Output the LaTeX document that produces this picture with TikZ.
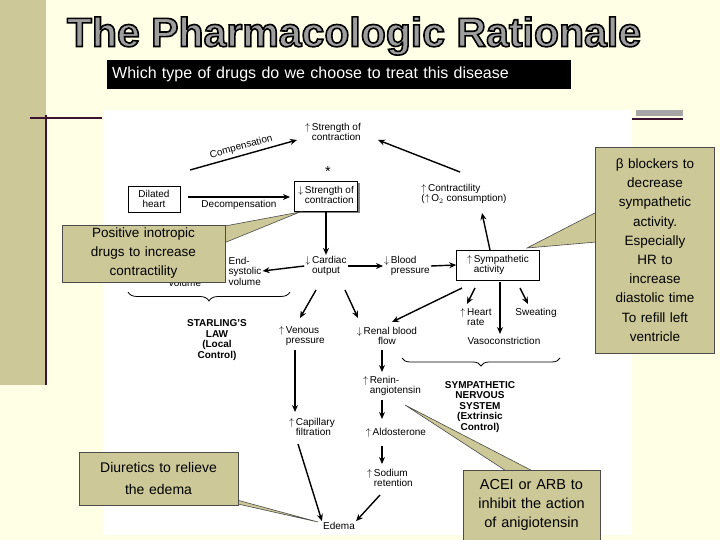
\documentclass[tikz,border=0pt]{standalone}
\usepackage{fontspec}
\setmainfont{Liberation Sans}
\usetikzlibrary{arrows.meta,decorations.pathreplacing,shadows}
\definecolor{bg}{RGB}{255,255,230}
\definecolor{khaki}{RGB}{204,200,152}
\definecolor{plum}{RGB}{60,20,50}
\hyphenpenalty=10000
\begin{document}
\begin{tikzpicture}[x=1pt,y=-1pt,
 t/.style={font=\fontsize{10}{10.5}\selectfont,align=left,inner sep=1pt},
 b/.style={font=\bfseries\fontsize{10}{10.5}\selectfont,align=center,inner sep=1pt},
 ar/.style={-{Stealth[length=7pt,width=6pt]},line width=1.4pt},
 bx/.style={draw,line width=0.6pt,fill=white},
 call/.style={draw=black!70,fill=khaki,line width=0.6pt},
 ct/.style={font=\fontsize{13.5}{16}\selectfont,align=center},
 tt/.style={font=\fontsize{41}{41}\selectfont\bfseries}]
\useasboundingbox (0,0) rectangle (720,540);
\fill[bg] (0,0) rectangle (720,540);
\fill[khaki] (0,0) rectangle (46,385);
\draw[plum,line width=2.5pt] (46,115) -- (46,385);
\draw[plum,line width=2.5pt] (30,118) -- (102,118);
\fill[black!35] (636,110) rectangle (683,116);
\draw[plum,line width=2.5pt] (610,119) -- (683,119);
\fill[white] (103,110) rectangle (632,535);
% title
\node[tt,text=black!38] (title) at (354,36) {\special{pdf:literal direct 2 Tr 1.6 w 0 0 0 RG}The Pharmacologic Rationale\special{pdf:literal direct 0 Tr}};
\node[fill=black,text=white,minimum width=464,minimum height=29,font=\fontsize{16}{17}\selectfont,anchor=north west,text width=454,align=left] (sub) at (107,60) {Which type of drugs do we choose to treat this disease};
% diagram
\node[t] (s1) at (333,133) {$\uparrow$\,Strength of\\\phantom{$\uparrow$\,}contraction};
\node[bx,t,minimum width=52,minimum height=26,align=center] (dh) at (154,199) {Dilated\\heart};
\node[bx,t,minimum width=63,minimum height=30,drop shadow={opacity=1,shadow xshift=2pt,shadow yshift=-2pt}] (s2) at (326,196) {$\downarrow$\,Strength of\\\phantom{$\downarrow$\,}contraction};
\node (star) at (328,172) {\Large *};
\node[t] (con) at (464,194) {$\uparrow$\,Contractility\\($\uparrow$\,O$_2$ consumption)};
\coordinate (c1) at (190,170); \coordinate (c2) at (297,140);
\draw[ar] (c1) -- node[sloped,above=2pt,t] (comp) {Compensation} (c2);
\coordinate (d1) at (188,197); \coordinate (d2) at (290,197);
\draw[ar] (d1) -- node[below=2pt,t] (dec) {Decompensation} (d2);
\coordinate (c3) at (460,172); \coordinate (c4) at (378,140);
\draw[ar] (c3) -- (c4);
\node[t] (co) at (326,266) {$\downarrow$\,Cardiac\\\phantom{$\downarrow$\,}output};
\node[t] (bp) at (407,266) {$\downarrow$\,Blood\\\phantom{$\downarrow$\,}pressure};
\node[bx,t,minimum width=83,minimum height=30] (sa) at (498,265) {$\uparrow$\,Sympathetic\\\phantom{$\uparrow$\,}activity};
\node[t] (esv) at (245,271) {End-\\systolic\\volume};
\node[t] (vol) at (185,283) {volume};
\draw[ar] (s2.south) -- (co.north);
\draw[ar] (co.west) -- (esv.east);
\draw[ar] (co.east) -- (bp.west);
\draw[ar] (bp.east) -- (sa.west);
\draw[ar] (490,250) -- (482,213);
\draw[decorate,decoration={brace,mirror,amplitude=9pt},line width=0.8pt] (128,292) -- (290,292);
\node[b] (sl) at (217,340) {STARLING'S\\LAW\\(Local\\Control)};
\node[t] (vp) at (302,336) {$\uparrow$\,Venous\\\phantom{$\uparrow$\,}pressure};
\node[t,align=center] (rb) at (387,336) {$\downarrow$\,Renal blood\\flow};
\node[t] (hr) at (476,318) {$\uparrow$\,Heart\\\phantom{$\uparrow$\,}rate};
\node[t] (sw) at (536,313) {Sweating};
\node[t] (vc) at (504,341) {Vasoconstriction};
\draw[ar] (316,290) -- (300,318);
\draw[ar] (345,290) -- (358,318);
\draw[ar] (462,288) -- (392,322);
\draw[ar] (475,288) -- (467,304);
\draw[ar] (500,282) -- (500,334);
\draw[ar] (520,288) -- (528,304);
\draw[decorate,decoration={brace,mirror,amplitude=8pt},line width=0.8pt] (402,358) -- (560,358);
\node[b] (sns) at (480,407) {SYMPATHETIC\\NERVOUS\\SYSTEM\\(Extrinsic\\Control)};
\node[t] (cf) at (312,428) {$\uparrow$\,Capillary\\\phantom{$\uparrow$\,}filtration};
\node[t] (ra) at (392,386) {$\uparrow$\,Renin-\\\phantom{$\uparrow$\,}angiotensin};
\node[t] (al) at (396,433) {$\uparrow$\,Aldosterone};
\node[t] (sr) at (390,479) {$\uparrow$\,Sodium\\\phantom{$\uparrow$\,}retention};
\node[t] (ed) at (339,526) {Edema};
\draw[ar] (295,350) -- (295,412);
\draw[ar] (382,350) -- (382,372);
\draw[ar] (382,400) -- (382,419);
\draw[ar] (382,446) -- (382,464);
\draw[ar] (298,444) -- (ed.north west);
\draw[ar] (380,495) -- (ed.north east);
% callouts
\draw[call] (150,240) -- (300,212) coordinate (p1) -- (170,265) -- cycle;
\node[call,ct,font=\fontsize{13.5}{19}\selectfont,minimum width=163,minimum height=57,text width=155] (ci) at (143.5,253.5) {Positive inotropic\\drugs to increase\\contractility};
\draw[call] (200,490) -- (318,522) coordinate (p2) -- (220,500) -- cycle;
\node[call,ct,font=\fontsize{14}{22}\selectfont,minimum width=157,minimum height=53,text width=152] (cd) at (158.5,478.5) {Diuretics to relieve\\the edema};
\draw[call] (520,480) -- (405,405) coordinate (p3) -- (550,480) -- cycle;
\node[call,ct,font=\fontsize{14.5}{19}\selectfont,minimum width=137,minimum height=70,text width=130] (ca) at (531.5,505) {ACEI or ARB to inhibit the action of anigiotensin};
\draw[call] (620,200) -- (527,248) coordinate (p4) -- (620,240) -- cycle;
\node[call,ct,font=\fontsize{13.5}{19.2}\selectfont,minimum width=116,minimum height=206,text width=112] (cb) at (655,250) {β blockers to\\decrease\\sympathetic\\activity.\\Especially\\HR to\\increase\\diastolic time\\To refill left\\ventricle};
\end{tikzpicture}
\end{document}
